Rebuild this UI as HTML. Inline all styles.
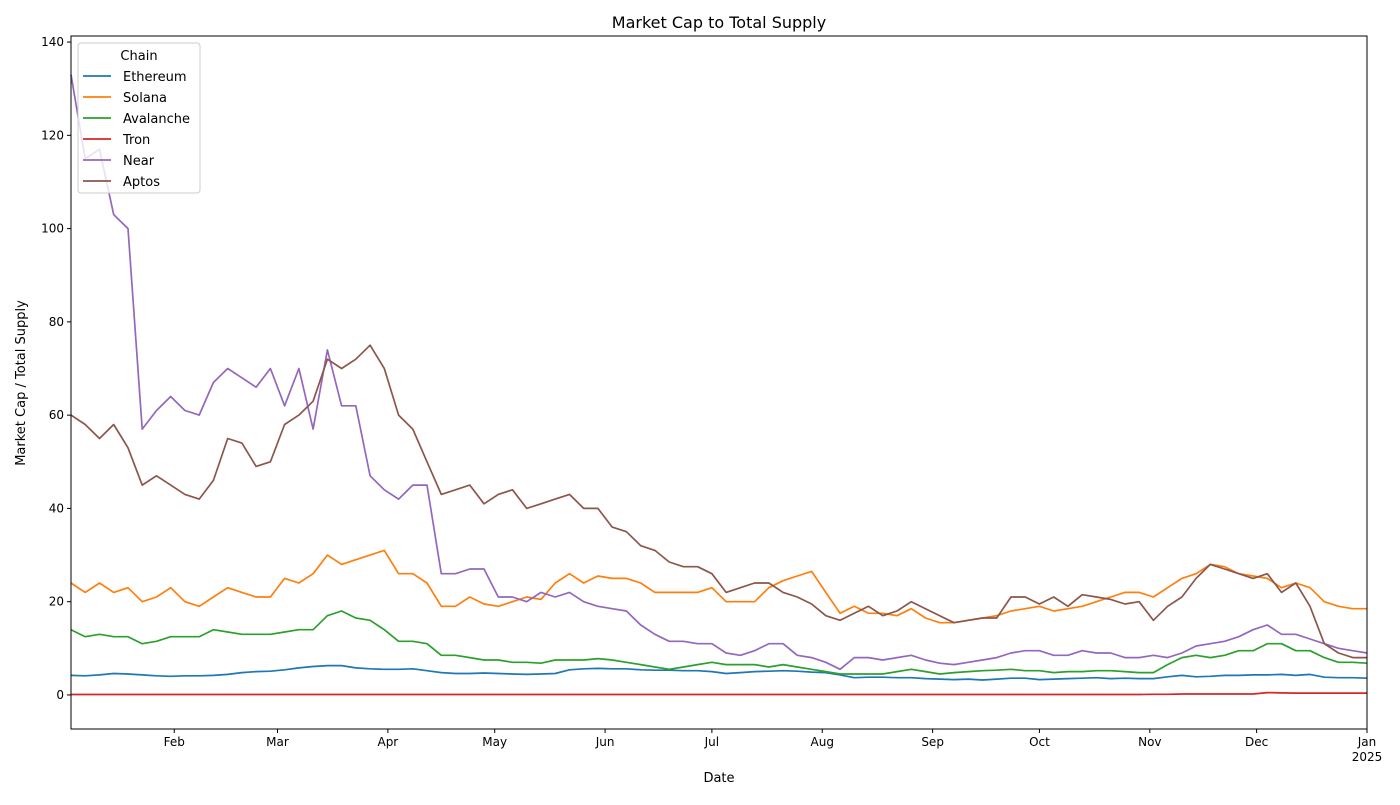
<!DOCTYPE html>
<html><head><meta charset="utf-8"><style>
body{margin:0;background:#fff;}
svg text{font-family:"DejaVu Sans","Liberation Sans",sans-serif;}
</style></head><body>
<svg id="chart" width="1400" height="800" xmlns="http://www.w3.org/2000/svg">
<rect width="1400" height="800" fill="#fff"/>
<text x="719" y="28" font-size="16" text-anchor="middle">Market Cap to Total Supply</text>
<text x="719" y="782" font-size="13" text-anchor="middle">Date</text>
<text transform="translate(25,383) rotate(-90)" font-size="13" text-anchor="middle">Market Cap / Total Supply</text>
<g id="plot"></g>
<g id="axes"></g>
<g id="legend"></g>
</svg>
<script>
const dayStep = 4;
const seriesNames = ["Ethereum","Solana","Avalanche","Tron","Near","Aptos"];
const colors = ["#1f77b4","#ff7f0e","#2ca02c","#d62728","#9467bd","#8c564b"];
const yTicks = [0,20,40,60,80,100,120,140];
const monthLabels = ["Feb","Mar","Apr","May","Jun","Jul","Aug","Sep","Oct","Nov","Dec","Jan"];
const monthDays = [29,58,89,119,150,180,211,242,272,303,333,364];
const ethereum = [4.2,4.1,4.3,4.6,4.5,4.3,4.1,4.0,4.1,4.1,4.2,4.4,4.8,5.0,5.1,5.4,5.8,6.1,6.3,6.3,5.8,5.6,5.5,5.5,5.6,5.2,4.8,4.6,4.6,4.7,4.6,4.5,4.4,4.5,4.6,5.4,5.6,5.7,5.6,5.6,5.4,5.3,5.3,5.2,5.2,5.0,4.6,4.8,5.0,5.1,5.2,5.1,4.9,4.8,4.3,3.7,3.8,3.8,3.7,3.7,3.5,3.4,3.3,3.4,3.2,3.4,3.6,3.6,3.3,3.4,3.5,3.6,3.7,3.5,3.6,3.5,3.5,3.9,4.2,3.9,4.0,4.2,4.2,4.3,4.3,4.4,4.2,4.4,3.8,3.7,3.7,3.6];
const solana = [24,22,24,22,23,20,21,23,20,19,21,23,22,21,21,25,24,26,30,28,29,30,31,26,26,24,19,19,21,19.5,19,20,21,20.5,24,26,24,25.5,25,25,24,22,22,22,22,23,20,20,20,23,24.5,25.5,26.5,22,17.5,19,17.5,17.5,17,18.5,16.5,15.5,15.5,16,16.5,17,18,18.5,19,18,18.5,19,20,21,22,22,21,23,25,26,28,27.5,26,25.5,25,23,24,23,20,19,18.5,18.5];
const avalanche = [14,12.5,13,12.5,12.5,11,11.5,12.5,12.5,12.5,14,13.5,13,13,13,13.5,14,14,17,18,16.5,16,14,11.5,11.5,11,8.5,8.5,8,7.5,7.5,7,7,6.8,7.5,7.5,7.5,7.8,7.5,7,6.5,6,5.5,6,6.5,7,6.5,6.5,6.5,6,6.5,6,5.5,5,4.5,4.5,4.5,4.5,5,5.5,5,4.5,4.8,5,5.2,5.3,5.5,5.2,5.2,4.8,5,5,5.2,5.2,5,4.8,4.8,6.5,8,8.5,8,8.5,9.5,9.5,11,11,9.5,9.5,8,7,7,6.8];
const tron = [0.1,0.1,0.1,0.1,0.1,0.1,0.1,0.1,0.1,0.1,0.1,0.1,0.1,0.1,0.1,0.1,0.1,0.1,0.1,0.1,0.1,0.1,0.1,0.1,0.1,0.1,0.1,0.1,0.1,0.1,0.1,0.1,0.1,0.1,0.1,0.1,0.1,0.1,0.1,0.1,0.1,0.1,0.1,0.1,0.1,0.1,0.1,0.1,0.1,0.1,0.1,0.1,0.1,0.1,0.1,0.1,0.1,0.1,0.1,0.1,0.1,0.1,0.1,0.1,0.1,0.1,0.1,0.1,0.1,0.1,0.1,0.1,0.1,0.1,0.1,0.1,0.15,0.15,0.2,0.2,0.2,0.2,0.2,0.2,0.5,0.45,0.4,0.4,0.4,0.4,0.4,0.4];
const near = [133,115,117,103,100,57,61,64,61,60,67,70,68,66,70,62,70,57,74,62,62,47,44,42,45,45,26,26,27,27,21,21,20,22,21,22,20,19,18.5,18,15,13,11.5,11.5,11,11,9,8.5,9.5,11,11,8.5,8,7,5.5,8,8,7.5,8,8.5,7.5,6.8,6.5,7,7.5,8,9,9.5,9.5,8.5,8.5,9.5,9,9,8,8,8.5,8,9,10.5,11,11.5,12.5,14,15,13,13,12,11,10,9.5,9];
const aptos = [60,58,55,58,53,45,47,45,43,42,46,55,54,49,50,58,60,63,72,70,72,75,70,60,57,50,43,44,45,41,43,44,40,41,42,43,40,40,36,35,32,31,28.5,27.5,27.5,26,22,23,24,24,22,21,19.5,17,16,17.5,19,17,18,20,18.5,17,15.5,16,16.5,16.5,21,21,19.5,21,19,21.5,21,20.5,19.5,20,16,19,21,25,28,27,26,25,26,22,24,19,11,9,8,8];
const allSeries = [ethereum,solana,avalanche,tron,near,aptos];

const X0=71,X1=1367,Y0=36,Y1=729;
const dMin=0,dMax=364,vMin=-7.3,vMax=141.3;
function xScale(d){return X0+(d-dMin)/(dMax-dMin)*(X1-X0);}
function yScale(v){return Y1-(v-vMin)/(vMax-vMin)*(Y1-Y0);}
const NS="http://www.w3.org/2000/svg";
function mk(tag,attrs,parent){const e=document.createElementNS(NS,tag);for(const k in attrs)e.setAttribute(k,attrs[k]);parent.appendChild(e);return e;}
const plot=document.getElementById('plot'),axes=document.getElementById('axes'),legend=document.getElementById('legend');

allSeries.forEach((vals,si)=>{
  const pts=vals.map((v,i)=>xScale(i*dayStep).toFixed(1)+","+yScale(v).toFixed(1)).join(" ");
  const pl=mk('polyline',{points:pts,fill:'none',stroke:colors[si],'stroke-width':1.7,'stroke-linejoin':'round'},plot);
  
  
});

const frame=mk('rect',{x:X0,y:Y0,width:X1-X0,height:Y1-Y0,fill:'none',stroke:'#000','stroke-width':1},axes);


yTicks.forEach(t=>{
  const y=yScale(t);
  const tk=mk('line',{x1:X0-4,x2:X0,y1:y,y2:y,stroke:'#000'},axes);
  
  
  const tx=mk('text',{x:X0-7,y:y+4,'font-size':12,'text-anchor':'end'},axes);
  tx.textContent=t;
  
  
});
monthDays.forEach((d,i)=>{
  const x=xScale(d);
  const tk=mk('line',{x1:x,x2:x,y1:Y1,y2:Y1+4,stroke:'#000'},axes);
  
  
  const tx=mk('text',{x:x,y:Y1+17,'font-size':12,'text-anchor':'middle'},axes);
  tx.textContent=monthLabels[i];
  
  
});
const yr=mk('text',{x:xScale(364),y:Y1+32,'font-size':12,'text-anchor':'middle'},axes);
yr.textContent='2025';



const lb=mk('rect',{x:78,y:43,width:122,height:150,rx:3,fill:'#fff','fill-opacity':0.8,stroke:'#ccc'},legend);


const lt=mk('text',{x:139,y:60,'font-size':13,'text-anchor':'middle'},legend);
lt.textContent='Chain';


seriesNames.forEach((n,i)=>{
  const y=76+i*21;
  const g=mk('g',{},legend);
  
  
  mk('line',{x1:83,x2:111,y1:y,y2:y,stroke:colors[i],'stroke-width':1.7},g);
  const t=mk('text',{x:123,y:y+5,'font-size':13},g);
  t.textContent=n;
});
</script>
</body></html>
